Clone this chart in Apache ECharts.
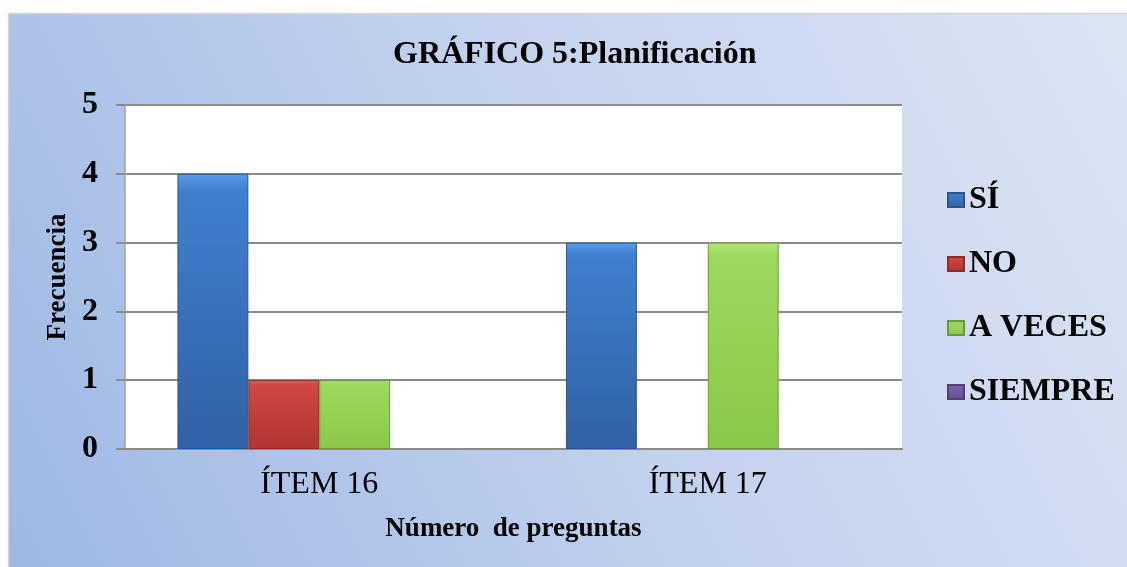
<!DOCTYPE html>
<html>
<head>
<meta charset="utf-8">
<script src="https://cdn.jsdelivr.net/npm/echarts@6/dist/echarts.min.js"></script>
<style>
html,body{margin:0;padding:0;background:#fff;}
#chart{width:1127px;height:567px;}
</style>
</head>
<body>
<div id="chart"></div>
<script>
const categories = ['ÍTEM 16', 'ÍTEM 17'];
const seriesNames = ['SÍ', 'NO', 'A VECES', 'SIEMPRE'];
const siValues = [4, 3];
const noValues = [1, 0];
const aVecesValues = [1, 3];
const siempreValues = [0, 0];
const yTicks = [0, 1, 2, 3, 4, 5];

const FONT = '"Liberation Serif", "Times New Roman", serif';

function grad(top, mid, bottom) {
  return new echarts.graphic.LinearGradient(0, 0, 0, 1, [
    {offset: 0, color: top},
    {offset: 0.06, color: mid},
    {offset: 0.94, color: bottom},
    {offset: 1, color: bottom}
  ]);
}
const styles = [
  {color: grad('#5b9be6', '#3f80cf', '#3263a6'), borderColor: '#2a568f'},
  {color: grad('#e46a66', '#d04844', '#b23631'), borderColor: '#8f2a27'},
  {color: grad('#b3e67a', '#9dd95c', '#8bc94b'), borderColor: '#6a9a38'},
  {color: grad('#9a80c4', '#7f61aa', '#694f90'), borderColor: '#553f76'}
];
const dataSets = [siValues, noValues, aVecesValues, siempreValues];

const chart = echarts.init(document.getElementById('chart'));
chart.setOption({
  backgroundColor: '#ffffff',
  animation: false,
  graphic: [{
    type: 'rect',
    z: -10,
    shape: {x: 8.5, y: 13.5, width: 1130, height: 570},
    style: {
      fill: new echarts.graphic.LinearGradient(0, 1, 1, 0, [
        {offset: 0, color: '#9db7e4'},
        {offset: 0.5, color: '#c2d1ee'},
        {offset: 1, color: '#dde5f4'}
      ]),
      stroke: '#d4d4d4',
      lineWidth: 1.5
    }
  }],
  title: {
    text: 'GRÁFICO 5:Planificación',
    left: 388,
    top: 34,
    textStyle: {fontFamily: FONT, fontWeight: 'bold', fontSize: 32, color: '#000'}
  },
  legend: {
    orient: 'vertical',
    left: 947,
    top: 184,
    padding: 0,
    itemWidth: 16,
    itemHeight: 14,
    itemGap: 32,
    icon: 'rect',
    data: seriesNames,
    textStyle: {fontFamily: FONT, fontWeight: 'bold', fontSize: 32, color: '#000', padding: [0, 0, 0, 0]}
  },
  grid: {
    left: 125, top: 105, right: 225, bottom: 118,
    show: true, backgroundColor: '#ffffff', borderWidth: 0
  },
  xAxis: {
    type: 'category',
    data: categories,
    name: 'Número  de preguntas',
    nameLocation: 'middle',
    nameGap: 67,
    nameTextStyle: {fontFamily: FONT, fontWeight: 'bold', fontSize: 27, color: '#000'},
    axisLine: {show: true, lineStyle: {color: '#8a8a8a', width: 2}},
    axisTick: {show: false},
    axisLabel: {fontFamily: FONT, fontSize: 32, color: '#000', margin: 20}
  },
  yAxis: {
    type: 'value',
    min: 0, max: 5, interval: 1,
    name: 'Frecuencia',
    nameLocation: 'middle',
    nameRotate: 90,
    nameGap: 51,
    nameTextStyle: {fontFamily: FONT, fontWeight: 'bold', fontSize: 27, color: '#000'},
    axisLine: {show: true, lineStyle: {color: '#a0a0a0', width: 1.5}},
    axisTick: {show: true, length: 9, lineStyle: {color: '#8a8a8a', width: 2}},
    axisLabel: {
      fontFamily: FONT, fontWeight: 'bold', fontSize: 32, color: '#000', margin: 27,
      formatter: v => yTicks.includes(v) ? String(v) : ''
    },
    splitLine: {show: true, lineStyle: {color: '#8a8a8a', width: 2}}
  },
  series: seriesNames.map((n, i) => ({
    name: n,
    type: 'bar',
    data: dataSets[i].map(v => v === 0 ? {value: v, itemStyle: {borderWidth: 0, opacity: 0}} : v),
    barGap: '0%',
    barCategoryGap: '27%',
    itemStyle: {color: styles[i].color, borderColor: styles[i].borderColor, borderWidth: 1}
  }))
});
</script>
</body>
</html>
